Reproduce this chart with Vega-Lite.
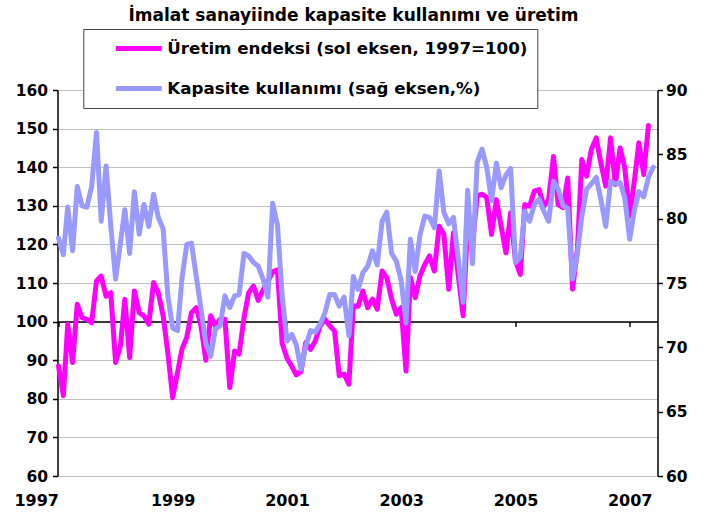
{
  "$schema": "https://vega.github.io/schema/vega-lite/v6.json",
  "width": 600,
  "height": 386,
  "autosize": "none",
  "padding": {"left": 57.5, "top": 90, "right": 46.5, "bottom": 41},
  "background": "white",
  "title": {
    "text": "İmalat sanayiinde kapasite kullanımı ve üretim",
    "font": "DejaVu Sans",
    "fontSize": 17,
    "fontWeight": "bold",
    "color": "black",
    "anchor": "middle",
    "offset": 4,
    "dx": -4
  },
  "config": {
    "view": {"stroke": null},
    "axis": {
      "labelFont": "DejaVu Sans",
      "labelFontWeight": "bold",
      "labelFontSize": 15.5,
      "labelColor": "black",
      "domainColor": "black",
      "domainWidth": 1.5,
      "tickColor": "black",
      "tickWidth": 1.5,
      "tickSize": 5
    }
  },
  "data": {
    "values": [
      {"tarih": "1997-01-01", "uretim": 88.5, "kapasite": 78.5},
      {"tarih": "1997-02-01", "uretim": 80.8, "kapasite": 77.2},
      {"tarih": "1997-03-01", "uretim": 99.3, "kapasite": 80.9},
      {"tarih": "1997-04-01", "uretim": 89.4, "kapasite": 77.5},
      {"tarih": "1997-05-01", "uretim": 104.5, "kapasite": 82.5},
      {"tarih": "1997-06-01", "uretim": 101.0, "kapasite": 81.0},
      {"tarih": "1997-07-01", "uretim": 100.6, "kapasite": 80.9},
      {"tarih": "1997-08-01", "uretim": 99.7, "kapasite": 82.5},
      {"tarih": "1997-09-01", "uretim": 110.5, "kapasite": 86.7},
      {"tarih": "1997-10-01", "uretim": 111.8, "kapasite": 79.8},
      {"tarih": "1997-11-01", "uretim": 106.6, "kapasite": 84.1},
      {"tarih": "1997-12-01", "uretim": 107.5, "kapasite": 79.5},
      {"tarih": "1998-01-01", "uretim": 89.4, "kapasite": 75.3},
      {"tarih": "1998-02-01", "uretim": 93.7, "kapasite": 78.1},
      {"tarih": "1998-03-01", "uretim": 105.8, "kapasite": 80.7},
      {"tarih": "1998-04-01", "uretim": 90.7, "kapasite": 77.3},
      {"tarih": "1998-05-01", "uretim": 107.9, "kapasite": 82.1},
      {"tarih": "1998-06-01", "uretim": 102.3, "kapasite": 78.8},
      {"tarih": "1998-07-01", "uretim": 101.5, "kapasite": 81.1},
      {"tarih": "1998-08-01", "uretim": 99.3, "kapasite": 79.4},
      {"tarih": "1998-09-01", "uretim": 110.1, "kapasite": 81.9},
      {"tarih": "1998-10-01", "uretim": 107.5, "kapasite": 80.1},
      {"tarih": "1998-11-01", "uretim": 101.5, "kapasite": 79.2},
      {"tarih": "1998-12-01", "uretim": 92.0, "kapasite": 74.0},
      {"tarih": "1999-01-01", "uretim": 80.3, "kapasite": 71.5},
      {"tarih": "1999-02-01", "uretim": 86.8, "kapasite": 71.3},
      {"tarih": "1999-03-01", "uretim": 92.8, "kapasite": 75.3},
      {"tarih": "1999-04-01", "uretim": 95.9, "kapasite": 78.0},
      {"tarih": "1999-05-01", "uretim": 102.3, "kapasite": 78.1},
      {"tarih": "1999-06-01", "uretim": 103.6, "kapasite": 75.5},
      {"tarih": "1999-07-01", "uretim": 98.9, "kapasite": 73.0},
      {"tarih": "1999-08-01", "uretim": 90.0, "kapasite": 70.3},
      {"tarih": "1999-09-01", "uretim": 101.5, "kapasite": 69.3},
      {"tarih": "1999-10-01", "uretim": 98.9, "kapasite": 71.4},
      {"tarih": "1999-11-01", "uretim": 100.6, "kapasite": 71.7},
      {"tarih": "1999-12-01", "uretim": 100.6, "kapasite": 74.0},
      {"tarih": "2000-01-01", "uretim": 82.9, "kapasite": 73.1},
      {"tarih": "2000-02-01", "uretim": 92.4, "kapasite": 74.0},
      {"tarih": "2000-03-01", "uretim": 91.6, "kapasite": 74.1},
      {"tarih": "2000-04-01", "uretim": 101.0, "kapasite": 77.3},
      {"tarih": "2000-05-01", "uretim": 107.5, "kapasite": 77.1},
      {"tarih": "2000-06-01", "uretim": 109.2, "kapasite": 76.6},
      {"tarih": "2000-07-01", "uretim": 105.5, "kapasite": 76.3},
      {"tarih": "2000-08-01", "uretim": 108.2, "kapasite": 75.3},
      {"tarih": "2000-09-01", "uretim": 110.4, "kapasite": 73.9},
      {"tarih": "2000-10-01", "uretim": 112.9, "kapasite": 81.2},
      {"tarih": "2000-11-01", "uretim": 113.4, "kapasite": 79.5},
      {"tarih": "2000-12-01", "uretim": 94.4, "kapasite": 74.0},
      {"tarih": "2001-01-01", "uretim": 90.5, "kapasite": 70.5},
      {"tarih": "2001-02-01", "uretim": 88.4, "kapasite": 71.0},
      {"tarih": "2001-03-01", "uretim": 86.2, "kapasite": 70.2},
      {"tarih": "2001-04-01", "uretim": 87.1, "kapasite": 68.3},
      {"tarih": "2001-05-01", "uretim": 94.6, "kapasite": 70.1},
      {"tarih": "2001-06-01", "uretim": 92.8, "kapasite": 71.3},
      {"tarih": "2001-07-01", "uretim": 95.0, "kapasite": 71.2},
      {"tarih": "2001-08-01", "uretim": 98.9, "kapasite": 71.8},
      {"tarih": "2001-09-01", "uretim": 100.6, "kapasite": 72.7},
      {"tarih": "2001-10-01", "uretim": 98.9, "kapasite": 74.1},
      {"tarih": "2001-11-01", "uretim": 97.6, "kapasite": 74.1},
      {"tarih": "2001-12-01", "uretim": 86.0, "kapasite": 73.2},
      {"tarih": "2002-01-01", "uretim": 86.4, "kapasite": 73.9},
      {"tarih": "2002-02-01", "uretim": 83.8, "kapasite": 70.9},
      {"tarih": "2002-03-01", "uretim": 104.1, "kapasite": 75.5},
      {"tarih": "2002-04-01", "uretim": 104.0, "kapasite": 74.5},
      {"tarih": "2002-05-01", "uretim": 107.9, "kapasite": 75.8},
      {"tarih": "2002-06-01", "uretim": 103.6, "kapasite": 76.3},
      {"tarih": "2002-07-01", "uretim": 105.8, "kapasite": 77.5},
      {"tarih": "2002-08-01", "uretim": 103.2, "kapasite": 76.4},
      {"tarih": "2002-09-01", "uretim": 113.1, "kapasite": 79.8},
      {"tarih": "2002-10-01", "uretim": 111.4, "kapasite": 80.5},
      {"tarih": "2002-11-01", "uretim": 105.8, "kapasite": 77.3},
      {"tarih": "2002-12-01", "uretim": 101.9, "kapasite": 76.7},
      {"tarih": "2003-01-01", "uretim": 103.6, "kapasite": 75.2},
      {"tarih": "2003-02-01", "uretim": 87.2, "kapasite": 71.9},
      {"tarih": "2003-03-01", "uretim": 111.4, "kapasite": 78.4},
      {"tarih": "2003-04-01", "uretim": 106.2, "kapasite": 75.9},
      {"tarih": "2003-05-01", "uretim": 111.8, "kapasite": 78.7},
      {"tarih": "2003-06-01", "uretim": 114.8, "kapasite": 80.2},
      {"tarih": "2003-07-01", "uretim": 117.0, "kapasite": 80.1},
      {"tarih": "2003-08-01", "uretim": 113.1, "kapasite": 79.3},
      {"tarih": "2003-09-01", "uretim": 124.7, "kapasite": 83.7},
      {"tarih": "2003-10-01", "uretim": 122.6, "kapasite": 80.5},
      {"tarih": "2003-11-01", "uretim": 108.4, "kapasite": 79.6},
      {"tarih": "2003-12-01", "uretim": 123.0, "kapasite": 80.1},
      {"tarih": "2004-01-01", "uretim": 112.0, "kapasite": 76.9},
      {"tarih": "2004-02-01", "uretim": 101.5, "kapasite": 73.5},
      {"tarih": "2004-03-01", "uretim": 125.0, "kapasite": 82.2},
      {"tarih": "2004-04-01", "uretim": 120.0, "kapasite": 76.5},
      {"tarih": "2004-05-01", "uretim": 132.6, "kapasite": 84.4},
      {"tarih": "2004-06-01", "uretim": 133.0, "kapasite": 85.4},
      {"tarih": "2004-07-01", "uretim": 132.2, "kapasite": 84.0},
      {"tarih": "2004-08-01", "uretim": 122.6, "kapasite": 81.4},
      {"tarih": "2004-09-01", "uretim": 131.6, "kapasite": 84.3},
      {"tarih": "2004-10-01", "uretim": 124.7, "kapasite": 82.4},
      {"tarih": "2004-11-01", "uretim": 117.8, "kapasite": 83.4},
      {"tarih": "2004-12-01", "uretim": 128.2, "kapasite": 83.9},
      {"tarih": "2005-01-01", "uretim": 115.7, "kapasite": 76.6},
      {"tarih": "2005-02-01", "uretim": 112.2, "kapasite": 77.0},
      {"tarih": "2005-03-01", "uretim": 130.3, "kapasite": 80.6},
      {"tarih": "2005-04-01", "uretim": 129.9, "kapasite": 79.8},
      {"tarih": "2005-05-01", "uretim": 133.8, "kapasite": 81.1},
      {"tarih": "2005-06-01", "uretim": 134.2, "kapasite": 81.5},
      {"tarih": "2005-07-01", "uretim": 129.9, "kapasite": 80.6},
      {"tarih": "2005-08-01", "uretim": 131.6, "kapasite": 79.8},
      {"tarih": "2005-09-01", "uretim": 142.8, "kapasite": 82.9},
      {"tarih": "2005-10-01", "uretim": 130.3, "kapasite": 82.3},
      {"tarih": "2005-11-01", "uretim": 129.5, "kapasite": 81.0},
      {"tarih": "2005-12-01", "uretim": 137.2, "kapasite": 80.8},
      {"tarih": "2006-01-01", "uretim": 108.4, "kapasite": 75.3},
      {"tarih": "2006-02-01", "uretim": 118.7, "kapasite": 77.3},
      {"tarih": "2006-03-01", "uretim": 142.0, "kapasite": 80.2},
      {"tarih": "2006-04-01", "uretim": 137.7, "kapasite": 82.3},
      {"tarih": "2006-05-01", "uretim": 144.6, "kapasite": 82.7},
      {"tarih": "2006-06-01", "uretim": 147.6, "kapasite": 83.2},
      {"tarih": "2006-07-01", "uretim": 141.1, "kapasite": 81.5},
      {"tarih": "2006-08-01", "uretim": 135.1, "kapasite": 79.4},
      {"tarih": "2006-09-01", "uretim": 147.6, "kapasite": 82.9},
      {"tarih": "2006-10-01", "uretim": 135.5, "kapasite": 82.7},
      {"tarih": "2006-11-01", "uretim": 145.0, "kapasite": 82.8},
      {"tarih": "2006-12-01", "uretim": 139.8, "kapasite": 81.6},
      {"tarih": "2007-01-01", "uretim": 127.3, "kapasite": 78.4},
      {"tarih": "2007-02-01", "uretim": 136.8, "kapasite": 80.7},
      {"tarih": "2007-03-01", "uretim": 146.3, "kapasite": 82.1},
      {"tarih": "2007-04-01", "uretim": 138.1, "kapasite": 81.7},
      {"tarih": "2007-05-01", "uretim": 150.8, "kapasite": 83.2},
      {"tarih": "2007-06-01", "uretim": null, "kapasite": 84.0}
    ]
  },
  "layer": [
    {
      "mark": {"type": "line", "strokeWidth": 5, "strokeJoin": "round", "strokeCap": "round"},
      "encoding": {
        "x": {
          "field": "tarih",
          "type": "temporal",
          "scale": {
            "type": "utc",
            "nice": false,
            "domain": [
              {"year": 1996, "month": 12, "date": 25, "hours": 14, "utc": true},
              {"year": 2007, "month": 6, "date": 28, "utc": true}
            ]
          },
          "axis": {
            "title": null,
            "grid": false,
            "offset": -154.4,
            "values": [
              {"year": 1997, "month": 1, "date": 1, "utc": true},
              {"year": 1999, "month": 1, "date": 1, "utc": true},
              {"year": 2001, "month": 1, "date": 1, "utc": true},
              {"year": 2003, "month": 1, "date": 1, "utc": true},
              {"year": 2005, "month": 1, "date": 1, "utc": true},
              {"year": 2007, "month": 1, "date": 1, "utc": true}
            ],
            "format": "%Y",
            "formatType": "utc",
            "labelFontSize": 16,
            "labelPadding": 166,
            "labelFlush": false,
            "labelOverlap": false,
            "labelBound": false,
            "labelAlign": {"condition": {"test": "datum.label == '1997'", "value": "right"}, "value": "center"}
          }
        },
        "y": {
          "field": "uretim",
          "type": "quantitative",
          "scale": {"domain": [60, 160], "nice": false, "zero": false},
          "axis": {
            "title": null,
            "values": [60, 70, 80, 90, 100, 110, 120, 130, 140, 150, 160],
            "grid": true,
            "gridColor": "#c0c0c0",
            "gridWidth": 1,
            "labelPadding": 5
          }
        },
        "color": {
          "datum": "Üretim endeksi (sol eksen, 1997=100)",
          "type": "nominal",
          "scale": {
            "domain": ["Üretim endeksi (sol eksen, 1997=100)", "Kapasite kullanımı (sağ eksen,%)"],
            "range": ["#FF00FF", "#9999FF"]
          },
          "legend": {
            "orient": "none",
            "legendX": 25.8,
            "legendY": -61,
            "title": null,
            "symbolType": "stroke",
            "symbolSize": 2116,
            "symbolStrokeWidth": 5,
            "symbolOffset": 21,
            "labelOffset": 3,
            "clipHeight": 21,
            "rowPadding": 19,
            "padding": 9,
            "fillColor": "white",
            "strokeColor": "#444444",
            "labelFont": "DejaVu Sans",
            "labelFontWeight": "bold",
            "labelFontSize": 16.7,
            "labelColor": "black",
            "labelLimit": 600
          }
        }
      }
    },
    {
      "mark": {"type": "line", "strokeWidth": 5, "strokeJoin": "round", "strokeCap": "round"},
      "encoding": {
        "x": {"field": "tarih", "type": "temporal"},
        "y": {
          "field": "kapasite",
          "type": "quantitative",
          "scale": {"domain": [60, 90], "nice": false, "zero": false},
          "axis": {
            "title": null,
            "orient": "right",
            "values": [60, 65, 70, 75, 80, 85, 90],
            "grid": false,
            "labelPadding": 3
          }
        },
        "color": {
          "datum": "Kapasite kullanımı (sağ eksen,%)",
          "type": "nominal"
        }
      }
    }
  ],
  "resolve": {"scale": {"y": "independent"}}
}
